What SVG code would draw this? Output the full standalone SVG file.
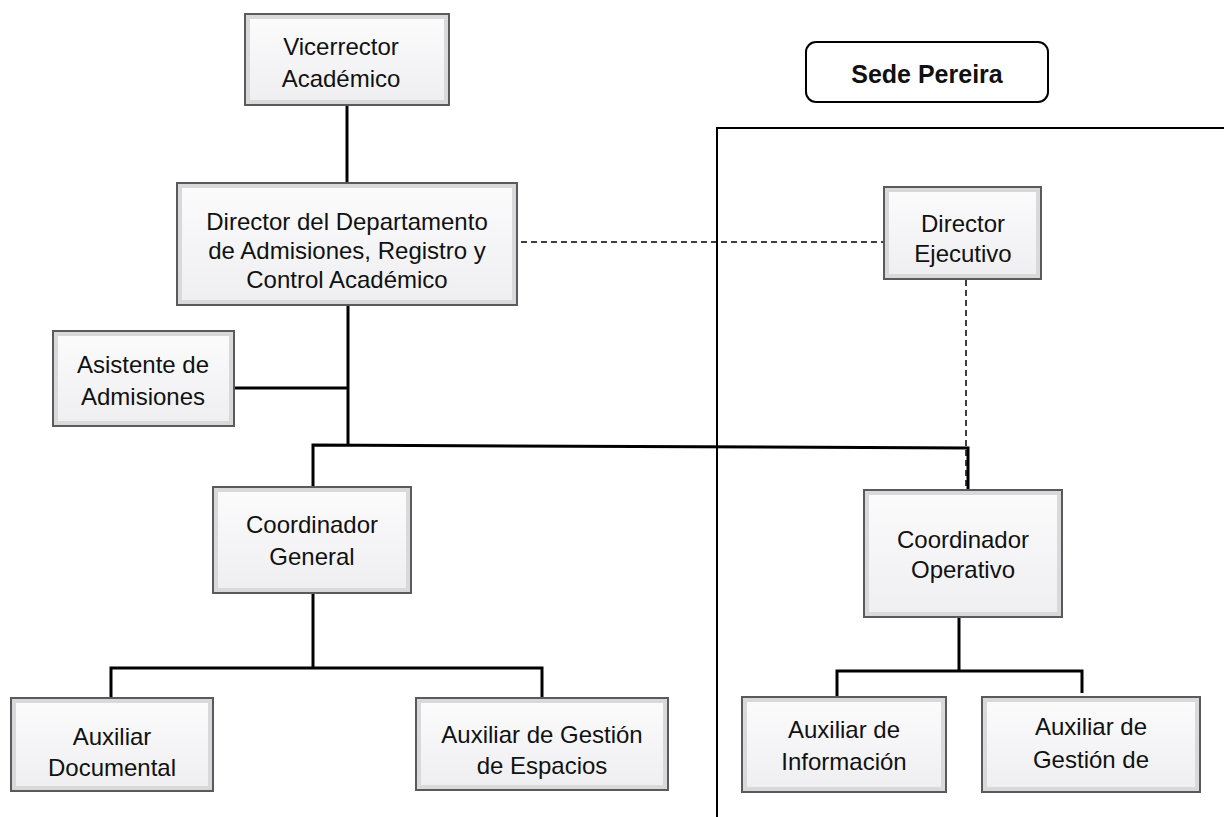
<svg xmlns="http://www.w3.org/2000/svg" width="1224" height="817" viewBox="0 0 1224 817">
<defs>
<linearGradient id="bev" x1="0" y1="0" x2="0" y2="1">
<stop offset="0" stop-color="#fbfbfc"/>
<stop offset="1" stop-color="#efeff1"/>
</linearGradient>
</defs>
<style>
.box{fill:#d9d9db;stroke:#5a5a5a;stroke-width:2}
.in{fill:url(#bev);stroke:none}
.t{font-family:"Liberation Sans",Arial,sans-serif;font-size:24px;fill:#111;text-anchor:middle}
.b{font-weight:bold;font-size:25px}
.solid{stroke:#000;stroke-width:3;fill:none}
.thin{stroke:#000;stroke-width:2;fill:none}
.dash{stroke:#000;stroke-width:1.5;stroke-dasharray:6 4;fill:none}
</style>
<rect width="1224" height="817" fill="#fff"/>
<g id="connectors">
<line class="solid" x1="347" y1="105" x2="347" y2="183"/>
<line class="solid" x1="348" y1="305" x2="348" y2="446"/>
<line class="solid" x1="234" y1="388" x2="348" y2="388"/>
<polyline class="solid" points="313,487 313,445 968,448 968,490"/>
<line class="solid" x1="313" y1="593" x2="313" y2="668"/>
<polyline class="solid" points="111,699 111,668 542,668 542,699"/>
<line class="solid" x1="959" y1="617" x2="959" y2="671"/>
<polyline class="solid" points="837,697 837,671 1082,671 1082,693"/>
<line class="dash" x1="521" y1="242" x2="884" y2="242"/>
<line class="dash" x1="966" y1="280" x2="966" y2="492"/>
<polyline class="thin" points="717,817 717,128 1224,128"/>
</g>
<g id="sede">
<rect x="806" y="42" width="242" height="60" rx="10" fill="#fff" stroke="#000" stroke-width="2"/>
<text class="t b" x="927" y="83">Sede Pereira</text>
</g>
<g id="vicerrector">
<rect class="box" x="245" y="14" width="204" height="91"/>
<rect class="in" x="250" y="19" width="194" height="81"/>
<text class="t" x="341" y="55">Vicerrector</text>
<text class="t" x="341" y="87">Académico</text>
</g>
<g id="director">
<rect class="box" x="177" y="183" width="340" height="122"/>
<rect class="in" x="182" y="188" width="330" height="112"/>
<text class="t" x="347" y="230">Director del Departamento</text>
<text class="t" x="347" y="259">de Admisiones, Registro y</text>
<text class="t" x="347" y="288">Control Académico</text>
</g>
<g id="ejecutivo">
<rect class="box" x="884" y="187" width="157" height="92"/>
<rect class="in" x="889" y="192" width="147" height="82"/>
<text class="t" x="963" y="232">Director</text>
<text class="t" x="963" y="262">Ejecutivo</text>
</g>
<g id="asistente">
<rect class="box" x="53" y="331" width="181" height="95"/>
<rect class="in" x="58" y="336" width="171" height="85"/>
<text class="t" x="143" y="373">Asistente de</text>
<text class="t" x="143" y="405">Admisiones</text>
</g>
<g id="coordgeneral">
<rect class="box" x="213" y="487" width="198" height="106"/>
<rect class="in" x="218" y="492" width="188" height="96"/>
<text class="t" x="312" y="533">Coordinador</text>
<text class="t" x="312" y="565">General</text>
</g>
<g id="coordoperativo">
<rect class="box" x="864" y="490" width="198" height="127"/>
<rect class="in" x="869" y="495" width="188" height="117"/>
<text class="t" x="963" y="548">Coordinador</text>
<text class="t" x="963" y="578">Operativo</text>
</g>
<g id="auxdoc">
<rect class="box" x="11" y="698" width="202" height="93"/>
<rect class="in" x="16" y="703" width="192" height="83"/>
<text class="t" x="112" y="745">Auxiliar</text>
<text class="t" x="112" y="776">Documental</text>
</g>
<g id="auxesp">
<rect class="box" x="416" y="698" width="252" height="92"/>
<rect class="in" x="421" y="703" width="242" height="82"/>
<text class="t" x="542" y="743">Auxiliar de Gestión</text>
<text class="t" x="542" y="774">de Espacios</text>
</g>
<g id="auxinfo">
<rect class="box" x="742" y="697" width="204" height="95"/>
<rect class="in" x="747" y="702" width="194" height="85"/>
<text class="t" x="844" y="738">Auxiliar de</text>
<text class="t" x="844" y="770">Información</text>
</g>
<g id="auxgest">
<rect class="box" x="982" y="697" width="218" height="95"/>
<rect class="in" x="987" y="702" width="208" height="85"/>
<text class="t" x="1091" y="735">Auxiliar de</text>
<text class="t" x="1091" y="768">Gestión de</text>
</g>
</svg>
